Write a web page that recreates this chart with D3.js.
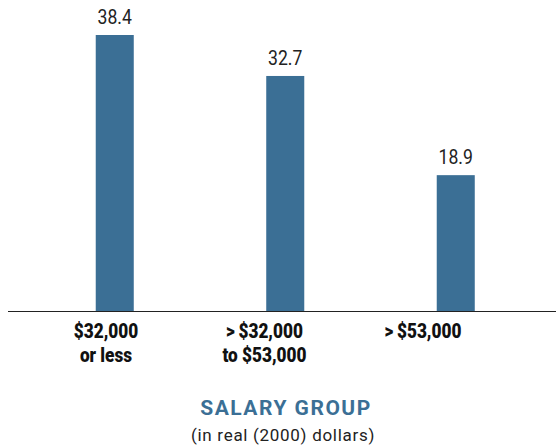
<!DOCTYPE html>
<html><head><meta charset="utf-8">
<script src="https://cdn.jsdelivr.net/npm/d3@7"></script>
<style>
body{margin:0;background:#fff;}
svg{display:block;}
</style></head>
<body>
<svg id="chart" width="556" height="447"></svg>
<script>
const categories = ["$32,000 or less", ">$32,000 to $53,000", ">$53,000"];
const categoryLines = [["$32,000", "or less"], [">\u2009$32,000", "to $53,000"], [">\u2009$53,000"]];
const values = [38.4, 32.7, 18.9];
const valueLabels = ["38.4", "32.7", "18.9"];
const axisTitle = "SALARY GROUP";
const axisSubtitle = "(in real (2000) dollars)";

const svg = d3.select("#chart");
const font = "'Roboto','Liberation Sans',sans-serif";
const barColor = "#3b6f95";

const x = d3.scaleBand().domain(categories).range([29.5, 541]).paddingInner(0.777).paddingOuter(0.3885);
const xLabel = d3.scalePoint().domain(categories).range([106, 423]);
const y = d3.scaleLinear().domain([0, 40]).range([311, 23.5]);

svg.selectAll("rect.bar").data(values).join("rect")
  .attr("class", "bar")
  .attr("x", (d, i) => x(categories[i]))
  .attr("width", x.bandwidth())
  .attr("y", d => y(d))
  .attr("height", d => y(0) - y(d))
  .attr("fill", barColor);

svg.selectAll("g.val").data(values).join("g")
  .attr("class", "val")
  .attr("transform", (d, i) => `translate(${x(categories[i]) + x.bandwidth() / 2},${y(d) - 11}) scale(0.88,1)`)
  .append("text")
  .attr("text-anchor", "middle")
  .attr("font-family", font)
  .attr("font-size", 20)
  .attr("fill", "#222")
  .text((d, i) => valueLabels[i]);

svg.append("line")
  .attr("x1", 8).attr("x2", 556)
  .attr("y1", y(0) + 0.5).attr("y2", y(0) + 0.5)
  .attr("stroke", "#222").attr("stroke-width", 1.2);

const labG = svg.selectAll("g.cat").data(categories).join("g")
  .attr("class", "cat")
  .attr("transform", d => `translate(${xLabel(d)},338) scale(0.82,1)`);
const lab = labG.append("text")
  .attr("text-anchor", "middle")
  .attr("font-family", font)
  .attr("font-weight", 900)
  .attr("font-size", 21)
  .attr("fill", "#111");
lab.selectAll("tspan").data((d, i) => categoryLines[i]).join("tspan")
  .attr("x", 0)
  .attr("dy", (d, j) => j === 0 ? 0 : 24)
  .text(d => d);

svg.append("text")
  .attr("x", 286).attr("y", 415)
  .attr("text-anchor", "middle")
  .attr("font-family", font)
  .attr("font-weight", "bold")
  .attr("font-size", 21)
  .attr("letter-spacing", 1.5)
  .attr("fill", barColor)
  .text(axisTitle);

svg.append("text")
  .attr("x", 283).attr("y", 441)
  .attr("text-anchor", "middle")
  .attr("font-family", font)
  .attr("font-size", 17)
  .attr("letter-spacing", 0.7)
  .attr("fill", "#222")
  .text(axisSubtitle);
</script>
</body></html>
